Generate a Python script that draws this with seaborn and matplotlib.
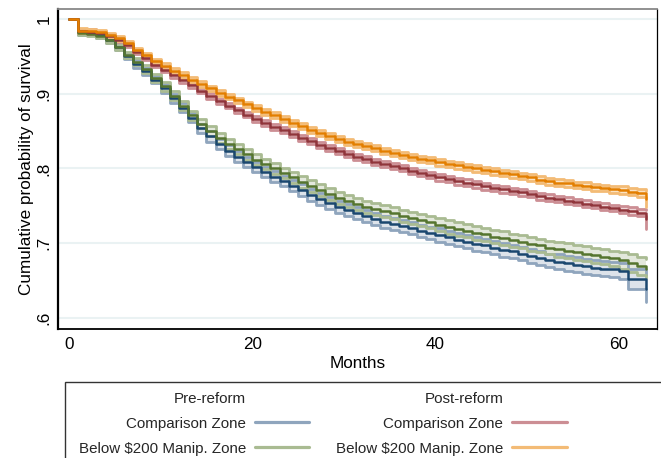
import matplotlib
matplotlib.use("Agg")
import pandas as pd
import matplotlib.pyplot as plt
import seaborn as sns
from matplotlib.lines import Line2D
from matplotlib.patches import Rectangle

# survival estimates, one value per month (0..63)
months = list(range(64))

surv_pre_comp = [
    1.0, 0.982, 0.981, 0.978, 0.972, 0.962, 0.950, 0.940, 0.930, 0.919,
    0.907, 0.894, 0.881, 0.868, 0.854, 0.843, 0.833, 0.824, 0.816, 0.809,
    0.802, 0.795, 0.789, 0.783, 0.777, 0.771, 0.765, 0.759, 0.754, 0.749,
    0.744, 0.740, 0.736, 0.733, 0.729, 0.726, 0.723, 0.720, 0.717, 0.714,
    0.711, 0.708, 0.705, 0.702, 0.699, 0.697, 0.694, 0.691, 0.689, 0.686,
    0.683, 0.680, 0.677, 0.675, 0.673, 0.671, 0.669, 0.667, 0.666, 0.665,
    0.663, 0.652, 0.652, 0.639]
surv_pre_below = [
    1.0, 0.981, 0.980, 0.977, 0.972, 0.963, 0.952, 0.943, 0.933, 0.921,
    0.910, 0.897, 0.884, 0.871, 0.860, 0.850, 0.841, 0.833, 0.826, 0.819,
    0.812, 0.806, 0.800, 0.794, 0.788, 0.782, 0.776, 0.771, 0.766, 0.761,
    0.756, 0.752, 0.749, 0.746, 0.743, 0.740, 0.737, 0.734, 0.731, 0.728,
    0.725, 0.722, 0.719, 0.717, 0.714, 0.712, 0.709, 0.707, 0.704, 0.702,
    0.699, 0.697, 0.694, 0.692, 0.690, 0.688, 0.686, 0.684, 0.682, 0.680,
    0.677, 0.673, 0.670, 0.666]
surv_post_comp = [
    1.0, 0.984, 0.983, 0.981, 0.977, 0.972, 0.965, 0.956, 0.948, 0.939,
    0.932, 0.925, 0.918, 0.911, 0.904, 0.897, 0.890, 0.884, 0.878, 0.872,
    0.866, 0.861, 0.856, 0.851, 0.846, 0.841, 0.837, 0.832, 0.828, 0.824,
    0.820, 0.816, 0.813, 0.809, 0.806, 0.803, 0.800, 0.797, 0.794, 0.791,
    0.788, 0.786, 0.783, 0.781, 0.779, 0.776, 0.774, 0.772, 0.770, 0.768,
    0.766, 0.763, 0.761, 0.759, 0.757, 0.755, 0.753, 0.751, 0.749, 0.747,
    0.745, 0.743, 0.741, 0.732]
surv_post_below = [
    1.0, 0.9845, 0.984, 0.982, 0.9787, 0.974, 0.968, 0.9587, 0.952, 0.944,
    0.937, 0.931, 0.925, 0.919, 0.913, 0.907, 0.901, 0.896, 0.891, 0.886,
    0.881, 0.876, 0.871, 0.866, 0.861, 0.857, 0.852, 0.848, 0.844, 0.840,
    0.836, 0.833, 0.830, 0.827, 0.824, 0.821, 0.818, 0.816, 0.813, 0.811,
    0.808, 0.806, 0.804, 0.802, 0.800, 0.798, 0.796, 0.794, 0.792, 0.790,
    0.788, 0.785, 0.783, 0.781, 0.780, 0.778, 0.777, 0.775, 0.774, 0.772,
    0.771, 0.769, 0.767, 0.759]

# half width of the 95% band
ci_pre_comp = [
    0.0, 0.003, 0.003, 0.003, 0.004, 0.004, 0.004, 0.005, 0.005, 0.005,
    0.006, 0.006, 0.006, 0.006, 0.006, 0.007, 0.007, 0.007, 0.007, 0.007,
    0.007, 0.007, 0.007, 0.007, 0.007, 0.008, 0.008, 0.008, 0.008, 0.008,
    0.008, 0.008, 0.008, 0.008, 0.008, 0.008, 0.008, 0.008, 0.008, 0.008,
    0.009, 0.009, 0.009, 0.009, 0.009, 0.009, 0.009, 0.009, 0.009, 0.009,
    0.009, 0.009, 0.009, 0.010, 0.010, 0.010, 0.010, 0.010, 0.010, 0.010,
    0.011, 0.013, 0.013, 0.018]
ci_pre_below = [
    0.0, 0.003, 0.003, 0.003, 0.004, 0.004, 0.004, 0.005, 0.005, 0.005,
    0.006, 0.006, 0.006, 0.006, 0.006, 0.007, 0.007, 0.007, 0.007, 0.007,
    0.007, 0.007, 0.007, 0.007, 0.007, 0.008, 0.008, 0.008, 0.008, 0.008,
    0.008, 0.008, 0.008, 0.008, 0.008, 0.008, 0.008, 0.008, 0.008, 0.008,
    0.009, 0.009, 0.009, 0.009, 0.009, 0.009, 0.009, 0.009, 0.009, 0.009,
    0.009, 0.009, 0.009, 0.010, 0.010, 0.010, 0.010, 0.010, 0.010, 0.010,
    0.011, 0.012, 0.012, 0.013]
ci_post_comp = [
    0.0, 0.003, 0.003, 0.003, 0.003, 0.003, 0.003, 0.003, 0.003, 0.003,
    0.0035, 0.0035, 0.0035, 0.0035, 0.0035, 0.0035, 0.0035, 0.0035, 0.0035, 0.0035,
    0.004, 0.004, 0.004, 0.004, 0.004, 0.004, 0.004, 0.004, 0.004, 0.004,
    0.004, 0.004, 0.004, 0.004, 0.004, 0.004, 0.004, 0.004, 0.004, 0.004,
    0.0045, 0.0045, 0.0045, 0.0045, 0.0045, 0.0045, 0.0045, 0.0045, 0.0045, 0.0045,
    0.0045, 0.0045, 0.0045, 0.0045, 0.0045, 0.0045, 0.0045, 0.0045, 0.0045, 0.0045,
    0.005, 0.005, 0.005, 0.013]
ci_post_below = [
    0.0, 0.003, 0.003, 0.003, 0.003, 0.003, 0.003, 0.003, 0.003, 0.003,
    0.0035, 0.0035, 0.0035, 0.0035, 0.0035, 0.0035, 0.0035, 0.0035, 0.0035, 0.0035,
    0.004, 0.004, 0.004, 0.004, 0.004, 0.004, 0.004, 0.004, 0.004, 0.004,
    0.004, 0.004, 0.004, 0.004, 0.004, 0.004, 0.004, 0.004, 0.004, 0.004,
    0.0045, 0.0045, 0.0045, 0.0045, 0.0045, 0.0045, 0.0045, 0.0045, 0.0045, 0.0045,
    0.0045, 0.0045, 0.0045, 0.0045, 0.0045, 0.0045, 0.0045, 0.0045, 0.0045, 0.0045,
    0.005, 0.005, 0.005, 0.011]

groups = ["Pre Comparison", "Pre Below", "Post Comparison", "Post Below"]
line_colors = ["#1a476f", "#55752f", "#90353b", "#e37e00"]
ci_line_colors = ["#8fa5bd", "#a9bb92", "#cc8e94", "#f3bb76"]
ci_fill_colors = ["#dde3ea", "#e3e8dc", "#eed5d7", "#fbe3c4"]

series = {
    "Pre Comparison": (surv_pre_comp, ci_pre_comp),
    "Pre Below": (surv_pre_below, ci_pre_below),
    "Post Comparison": (surv_post_comp, ci_post_comp),
    "Post Below": (surv_post_below, ci_post_below),
}

rows = []
for g in groups:
    s, c = series[g]
    for m, v, h in zip(months, s, c):
        rows.append({"Months": m, "Survival": v, "Lower": v - h, "Upper": min(v + h, 1.0), "Group": g})
df = pd.DataFrame(rows)

sns.set_theme(style="white")
plt.rcParams["font.family"] = ["Liberation Sans", "DejaVu Sans"]

fig = plt.figure(figsize=(6.61, 4.58), dpi=100)
ax = fig.add_axes([58 / 661, 1 - 329 / 458, 599 / 661, 320 / 458])

# confidence bands first, then the estimates on top
for g, fc, lc in zip(groups, ci_fill_colors, ci_line_colors):
    d = df[df["Group"] == g]
    ax.fill_between(d["Months"], d["Lower"], d["Upper"], step="post", color=fc, lw=0, zorder=1)
    ax.step(d["Months"], d["Lower"], where="post", color=lc, lw=2.0, zorder=1.5)
    ax.step(d["Months"], d["Upper"], where="post", color=lc, lw=2.0, zorder=1.5)

sns.lineplot(data=df, x="Months", y="Survival", hue="Group", hue_order=groups,
             palette=line_colors, estimator=None, drawstyle="steps-post",
             linewidth=1.8, legend=False, ax=ax, zorder=3)

ax.set_xlim(-1.2, 64.2)
ax.set_ylim(0.5853, 1.0133)
ax.set_xticks([0, 20, 40, 60])
ax.set_yticks([0.6, 0.7, 0.8, 0.9, 1.0])
ax.set_yticklabels([".6", ".7", ".8", ".9", "1"], rotation=90, va="center")
ax.yaxis.grid(True, color="#eaf2f3", lw=1.5)
ax.xaxis.grid(False)
ax.set_axisbelow(True)
ax.tick_params(direction="in", length=4.5, width=1, color="black", labelsize=12.3,
               labelcolor="black", pad=6)
ax.tick_params(axis="y", pad=4.5)
ax.set_xlabel("Months", fontsize=12.3, color="black", labelpad=3)
ax.set_ylabel("Cumulative probability of survival", fontsize=12.3, color="black", labelpad=2)

for side, col, w in [("left", "black", 1.6), ("bottom", "black", 1.3),
                     ("top", "#888888", 1.3), ("right", "black", 0.9)]:
    ax.spines[side].set_visible(True)
    ax.spines[side].set_color(col)
    ax.spines[side].set_linewidth(w)

# legend box running off the bottom/right edge, as in the original export
fig.add_artist(Rectangle((65 / 661, -0.2), 1.0, (458 - 382) / 458 + 0.2,
                         transform=fig.transFigure, fill=False, edgecolor="#333333", lw=1.0))

blank = Line2D([], [], color="none")
handles = [blank,
           Line2D([], [], color=ci_line_colors[0], lw=2.3),
           Line2D([], [], color=ci_line_colors[1], lw=2.3),
           blank,
           Line2D([], [], color=ci_line_colors[2], lw=2.3),
           Line2D([], [], color=ci_line_colors[3], lw=2.3)]
labels = ["Pre-reform", "Comparison Zone", "Below \\$200 Manip. Zone",
          "Post-reform", "Comparison Zone", "Below \\$200 Manip. Zone"]
fig.legend(handles, labels, ncol=2, markerfirst=False, frameon=False,
           loc="upper left", bbox_to_anchor=(71 / 661, 1 - 384 / 458),
           borderpad=0, fontsize=10.9, handlelength=3.6, handletextpad=0.6,
           columnspacing=1.75, labelspacing=0.73)

fig.savefig("out.png", dpi=100)
